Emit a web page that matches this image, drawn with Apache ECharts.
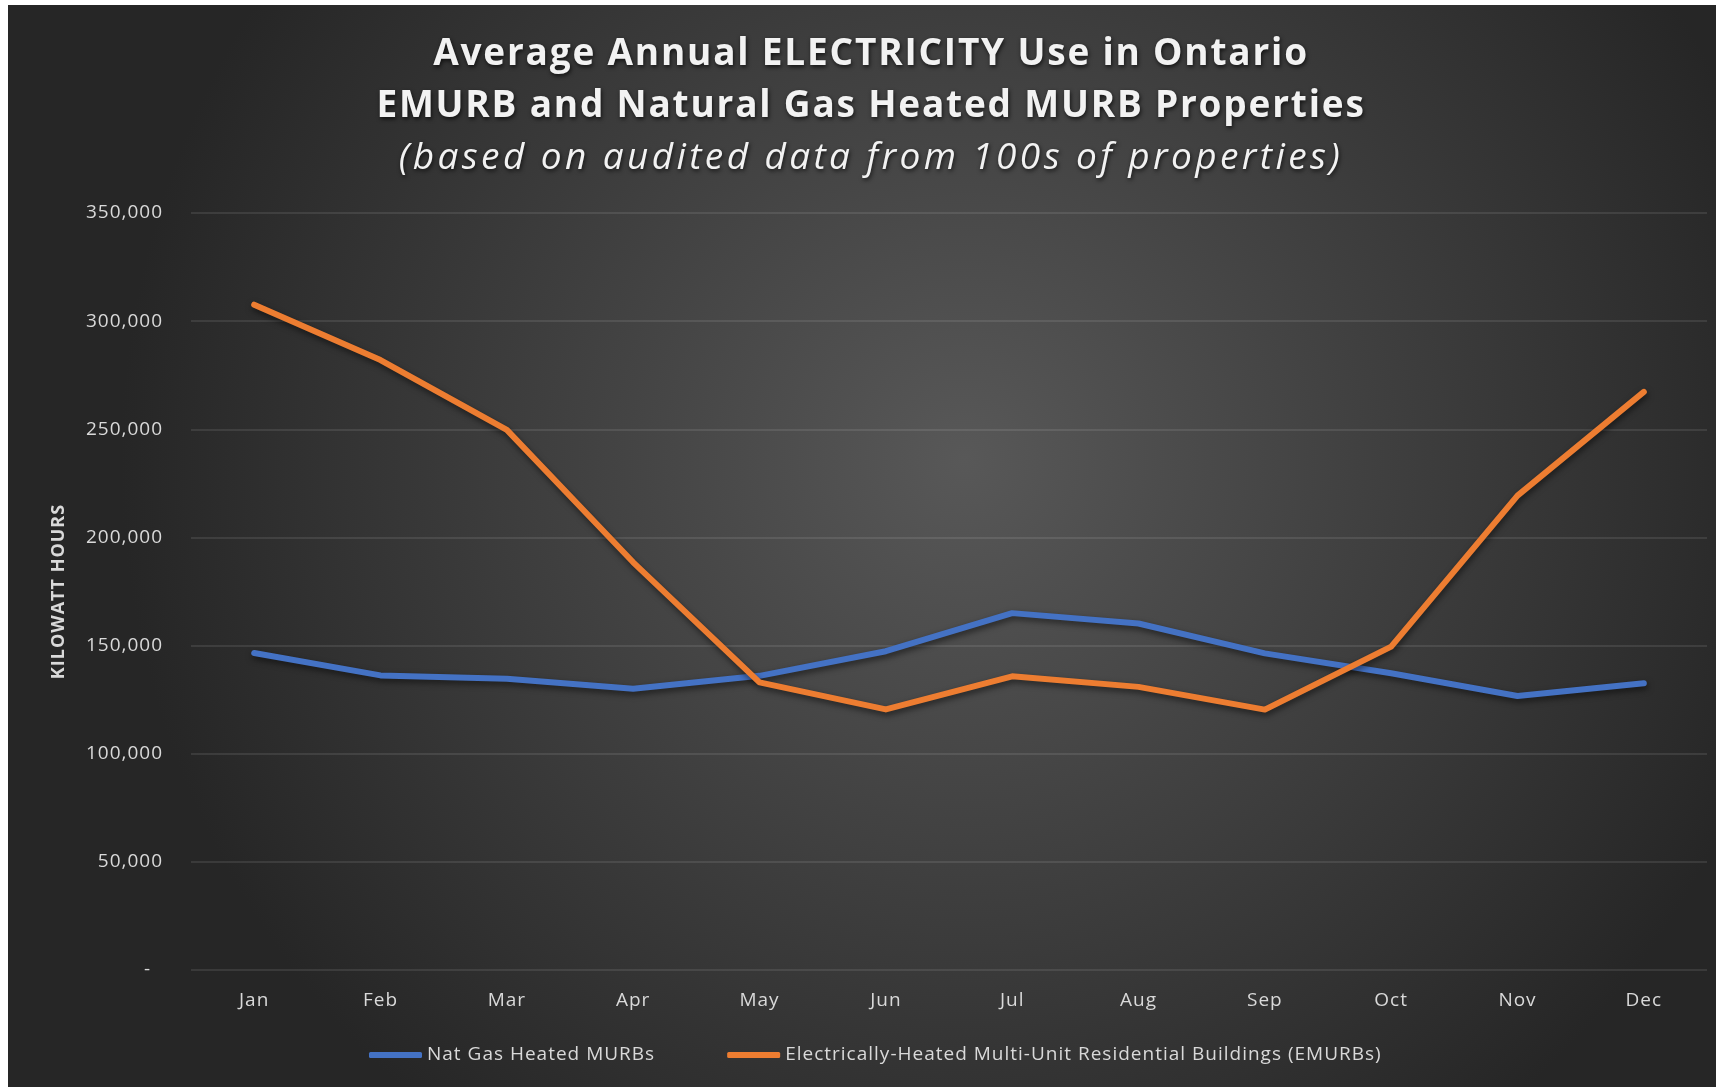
<!DOCTYPE html>
<html>
<head>
<meta charset="utf-8">
<script src="https://cdn.jsdelivr.net/npm/echarts@6/dist/echarts.min.js"></script>
<style>
  html, body { margin: 0; padding: 0; background: #fff; }
  #main { position: absolute; left: 8px; top: 5px; width: 1708px; height: 1082px; }
</style>
</head>
<body>
<div id="main"></div>
<script>
const months = ['Jan', 'Feb', 'Mar', 'Apr', 'May', 'Jun', 'Jul', 'Aug', 'Sep', 'Oct', 'Nov', 'Dec'];
const natGas = [146600, 136200, 134700, 130000, 136000, 147400, 165000, 160200, 146400, 137200, 126700, 132600];
const emurb = [307600, 282000, 249700, 188500, 133000, 120500, 135800, 130900, 120400, 149500, 219300, 267300];
const seriesNames = ['Nat Gas Heated MURBs', 'Electrically-Heated Multi-Unit Residential Buildings (EMURBs)'];
const titleLines = [
  'Average Annual ELECTRICITY Use in Ontario',
  'EMURB and Natural Gas Heated MURB Properties',
  '(based on audited data from 100s of properties)'
];

const labelColor = '#d9d9d9';
const shadowLine = {
  shadowColor: 'rgba(0,0,0,0.55)',
  shadowBlur: 6,
  shadowOffsetX: 1,
  shadowOffsetY: 3
};
const titleShadow = {
  textShadowColor: 'rgba(0,0,0,0.7)',
  textShadowBlur: 4,
  textShadowOffsetX: 1,
  textShadowOffsetY: 2
};

// the original (Calibri, expanded) text is wider than Open Sans, so add some tracking on draw
const baseFillText = CanvasRenderingContext2D.prototype.fillText;
CanvasRenderingContext2D.prototype.fillText = function () {
  let f = this.font;
  if (f.indexOf('italic') > -1) this.letterSpacing = '3.4px';
  else if (f.indexOf('37px') > -1) this.letterSpacing = '1.8px';
  else this.letterSpacing = '1px';
  return baseFillText.apply(this, arguments);
};

let myChart = echarts.init(document.getElementById('main'));

let option = {
  animation: false,
  backgroundColor: new echarts.graphic.RadialGradient(0.56, 0.42, 0.78, [
    { offset: 0, color: '#585858' },
    { offset: 1, color: '#262626' }
  ]),
  title: titleLines.map((t, i) => ({
    text: t,
    left: 858,
    textAlign: 'center',
    top: 26 + i * 52,
    textStyle: Object.assign({
      color: '#f2f2f2',
      fontFamily: 'Open Sans',
      fontSize: 37,
      fontWeight: i < 2 ? 'bold' : 'normal',
      fontStyle: i < 2 ? 'normal' : 'italic'
    }, titleShadow)
  })),
  legend: {
    data: seriesNames,
    left: 356,
    top: 1033,
    icon: 'roundRect',
    itemWidth: 53,
    itemHeight: 6,
    itemGap: 92,
    textStyle: { color: labelColor, fontFamily: 'Open Sans', fontSize: 19, lineHeight: 24 }
  },
  grid: { left: 183, right: 9, top: 208, bottom: 117 },
  xAxis: {
    type: 'category',
    data: months,
    boundaryGap: true,
    axisLine: { show: false },
    axisTick: { show: false },
    axisLabel: { color: labelColor, fontFamily: 'Open Sans', fontSize: 19, margin: 21 }
  },
  yAxis: {
    type: 'value',
    min: 0,
    max: 350000,
    interval: 50000,
    name: 'KILOWATT HOURS',
    nameLocation: 'middle',
    nameGap: 123,
    nameTextStyle: { color: labelColor, fontFamily: 'Open Sans', fontSize: 18, fontWeight: 'bold' },
    axisLine: { show: false },
    axisTick: { show: false },
    axisLabel: {
      color: labelColor,
      fontFamily: 'Open Sans',
      fontSize: 19,
      margin: 28,
      // accounting style: zero shows as a dash, padded
      formatter: v => v === 0 ? '-  ' : v.toLocaleString('en-US')
    },
    splitLine: { lineStyle: { color: 'rgba(255,255,255,0.13)', width: 1.5 } }
  },
  series: [
    {
      name: seriesNames[0],
      type: 'line',
      data: natGas,
      symbol: 'none',
      color: '#4472C4',
      lineStyle: Object.assign({ width: 6, cap: 'round', join: 'round' }, shadowLine)
    },
    {
      name: seriesNames[1],
      type: 'line',
      data: emurb,
      symbol: 'none',
      color: '#ED7D31',
      lineStyle: Object.assign({ width: 6, cap: 'round', join: 'round' }, shadowLine)
    }
  ]
};

option && myChart.setOption(option);
</script>
</body>
</html>
